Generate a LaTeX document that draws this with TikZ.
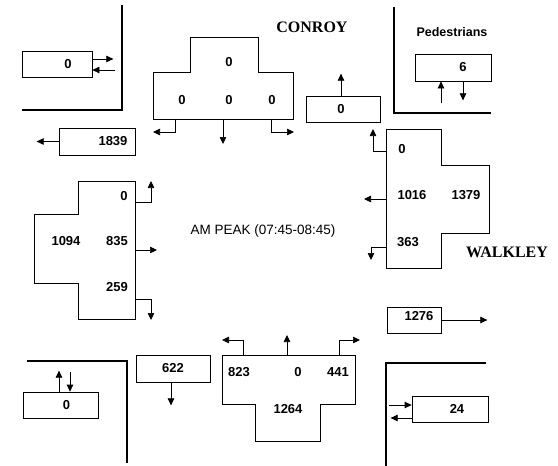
\documentclass[tikz,border=0pt]{standalone}
\usepackage{fontspec}
\newfontfamily\numfont{Liberation Sans}
\newfontfamily\roadfont{Liberation Serif}
\usetikzlibrary{arrows.meta}
\tikzset{
  cnt/.style={draw,line width=0.7pt,minimum height=26pt,inner sep=0pt},
  appr/.style={draw,line width=0.7pt},
  num/.style={font={\numfont\bfseries\fontsize{13pt}{15pt}\selectfont},inner sep=0pt},
  flow/.style={-{Triangle[length=7pt,width=6.5pt]},line width=0.7pt},
  kerb/.style={line width=2.6pt},
  road/.style={font={\roadfont\bfseries\fontsize{16pt}{18pt}\selectfont}},
}

\begin{document}
\begin{tikzpicture}[x=1pt,y=-1pt]
  \useasboundingbox (0,0) rectangle (558,466);

  % kerb corners
  \draw[kerb] (22,110) -- (122,110) -- (122,5);
  \draw[kerb] (394,7) -- (394,113) -- (491,113);
  \draw[kerb] (27,361) -- (127,361) -- (127,463);
  \draw[kerb] (386,466) -- (386,363) -- (486,363);

  % street names and title
  \node[road] (conroy) at (312,27) {CONROY};
  \node[road] (walkley) at (507,252) {WALKLEY};
  \node[num,font={\numfont\bfseries\fontsize{12.5pt}{14pt}\selectfont}] (pedtitle) at (452,32) {Pedestrians};
  \node[font={\numfont\fontsize{13.5pt}{15pt}\selectfont}] (period) at (263,231) {AM PEAK (07:45-08:45)};

  % north approach (Conroy southbound)
  \draw[appr] (153,72) -- (190,72) -- (190,37) -- (258,37) -- (258,72) -- (293,72) -- (293,119) -- (153,119) -- cycle;
  \node[num] (nT) at (229,62) {0};
  \node[num] (nL) at (182,100) {0};
  \node[num] (nS) at (229,100) {0};
  \node[num] (nR) at (272,100) {0};
  \coordinate (nLo) at (175,119);
  \coordinate (nSo) at (223,119);
  \coordinate (nRo) at (271,119);
  \draw[flow] (nLo) -- ++(0,13) -- ++(-22,0);
  \draw[flow] (nSo) -- ++(0,25);
  \draw[flow] (nRo) -- ++(0,13) -- ++(23,0);

  % west approach
  \draw[appr] (78,181) -- (135,181) -- (135,319) -- (78,319) -- (78,283) -- (34,283) -- (34,214) -- (78,214) -- cycle;
  \node[num] (wL) at (124,196) {0};
  \node[num] (wT) at (66,241) {1094};
  \node[num] (wS) at (117,241) {835};
  \node[num] (wR) at (117,287) {259};
  \coordinate (wLo) at (135,202);
  \coordinate (wSo) at (135,250);
  \coordinate (wRo) at (135,299);
  \draw[flow] (wLo) -- ++(16,0) -- ++(0,-21);
  \draw[flow] (wSo) -- ++(22,0);
  \draw[flow] (wRo) -- ++(16,0) -- ++(0,21);

  % east approach (Walkley westbound)
  \draw[appr] (386,129) -- (441,129) -- (441,165) -- (489,165) -- (489,233) -- (441,233) -- (441,268) -- (386,268) -- cycle;
  \node[num] (eR) at (402,149) {0};
  \node[num] (eS) at (412,195) {1016};
  \node[num] (eT) at (466,195) {1379};
  \node[num] (eL) at (408,242) {363};
  \coordinate (eRo) at (386,151);
  \coordinate (eSo) at (386,199);
  \coordinate (eLo) at (386,247);
  \draw[flow] (eRo) -- ++(-13,0) -- ++(0,-22);
  \draw[flow] (eSo) -- ++(-22,0);
  \draw[flow] (eLo) -- ++(-15,0) -- ++(0,13);

  % south approach
  \draw[appr] (222,355) -- (355,355) -- (355,404) -- (320,404) -- (320,441) -- (255,441) -- (255,404) -- (222,404) -- cycle;
  \node[num] (sL) at (239,372) {823};
  \node[num] (sS) at (298,372) {0};
  \node[num] (sR) at (338,372) {441};
  \node[num] (sT) at (288,409) {1264};
  \coordinate (sLo) at (243,355);
  \coordinate (sSo) at (287,355);
  \coordinate (sRo) at (339,355);
  \draw[flow] (sLo) -- ++(0,-15) -- ++(-21,0);
  \draw[flow] (sSo) -- ++(0,-20);
  \draw[flow] (sRo) -- ++(0,-15) -- ++(21,0);

  % departures
  \node[cnt,minimum width=76pt,minimum height=27pt,label={[num,xshift=16pt]center:1839}] (outW) at (97,141.5) {};
  \draw[flow] (outW.west) -- ++(-22,0);
  \node[cnt,minimum width=74pt,label={[num,xshift=-2pt]center:0}] (outN) at (343,109) {};
  \draw[flow] (outN.north) ++(-2,0) -- ++(0,-22);
  \node[cnt,minimum width=54pt,label={[num,xshift=5pt,yshift=4pt]center:1276}] (outE) at (414,320) {};
  \draw[flow] (outE.east) -- ++(46,0);
  \node[cnt,minimum width=74pt,minimum height=27pt,label={[num]center:622}] (outS) at (173,368.5) {};
  \draw[flow] (outS.south) ++(-2,0) -- ++(0,23);

  % pedestrians
  \node[cnt,minimum width=70pt,label={[num,xshift=11pt]center:0}] (pedNW) at (57,64) {};
  \draw[flow] (pedNW.east) ++(0,-5) -- ++(21,0);
  \draw[flow] ([xshift=23pt,yshift=-6pt]pedNW.east) -- ++(-23,0);
  \node[cnt,minimum width=76pt,minimum height=27pt,label={[num,xshift=10pt]center:6}] (pedNE) at (453,67.5) {};
  \draw[flow] ([xshift=-12pt,yshift=-22pt]pedNE.south) -- ++(0,-22);
  \draw[flow] ([xshift=10pt]pedNE.south) -- ++(0,19);
  \node[cnt,minimum width=75pt,label={[num,xshift=6pt]center:0}] (pedSW) at (60.5,405) {};
  \draw[flow] ([xshift=-1.5pt]pedSW.north) -- ++(0,-21);
  \draw[flow] ([xshift=9.5pt,yshift=20pt]pedSW.north) -- ++(0,20);
  \node[cnt,minimum width=76pt,label={[num,xshift=7pt]center:24}] (pedSE) at (450,409) {};
  \draw[flow] ([xshift=-23pt,yshift=4pt]pedSE.west) -- ++(23,0);
  \draw[flow] (pedSE.west) ++(0,9) -- ++(-21,0);
\end{tikzpicture}
\end{document}
